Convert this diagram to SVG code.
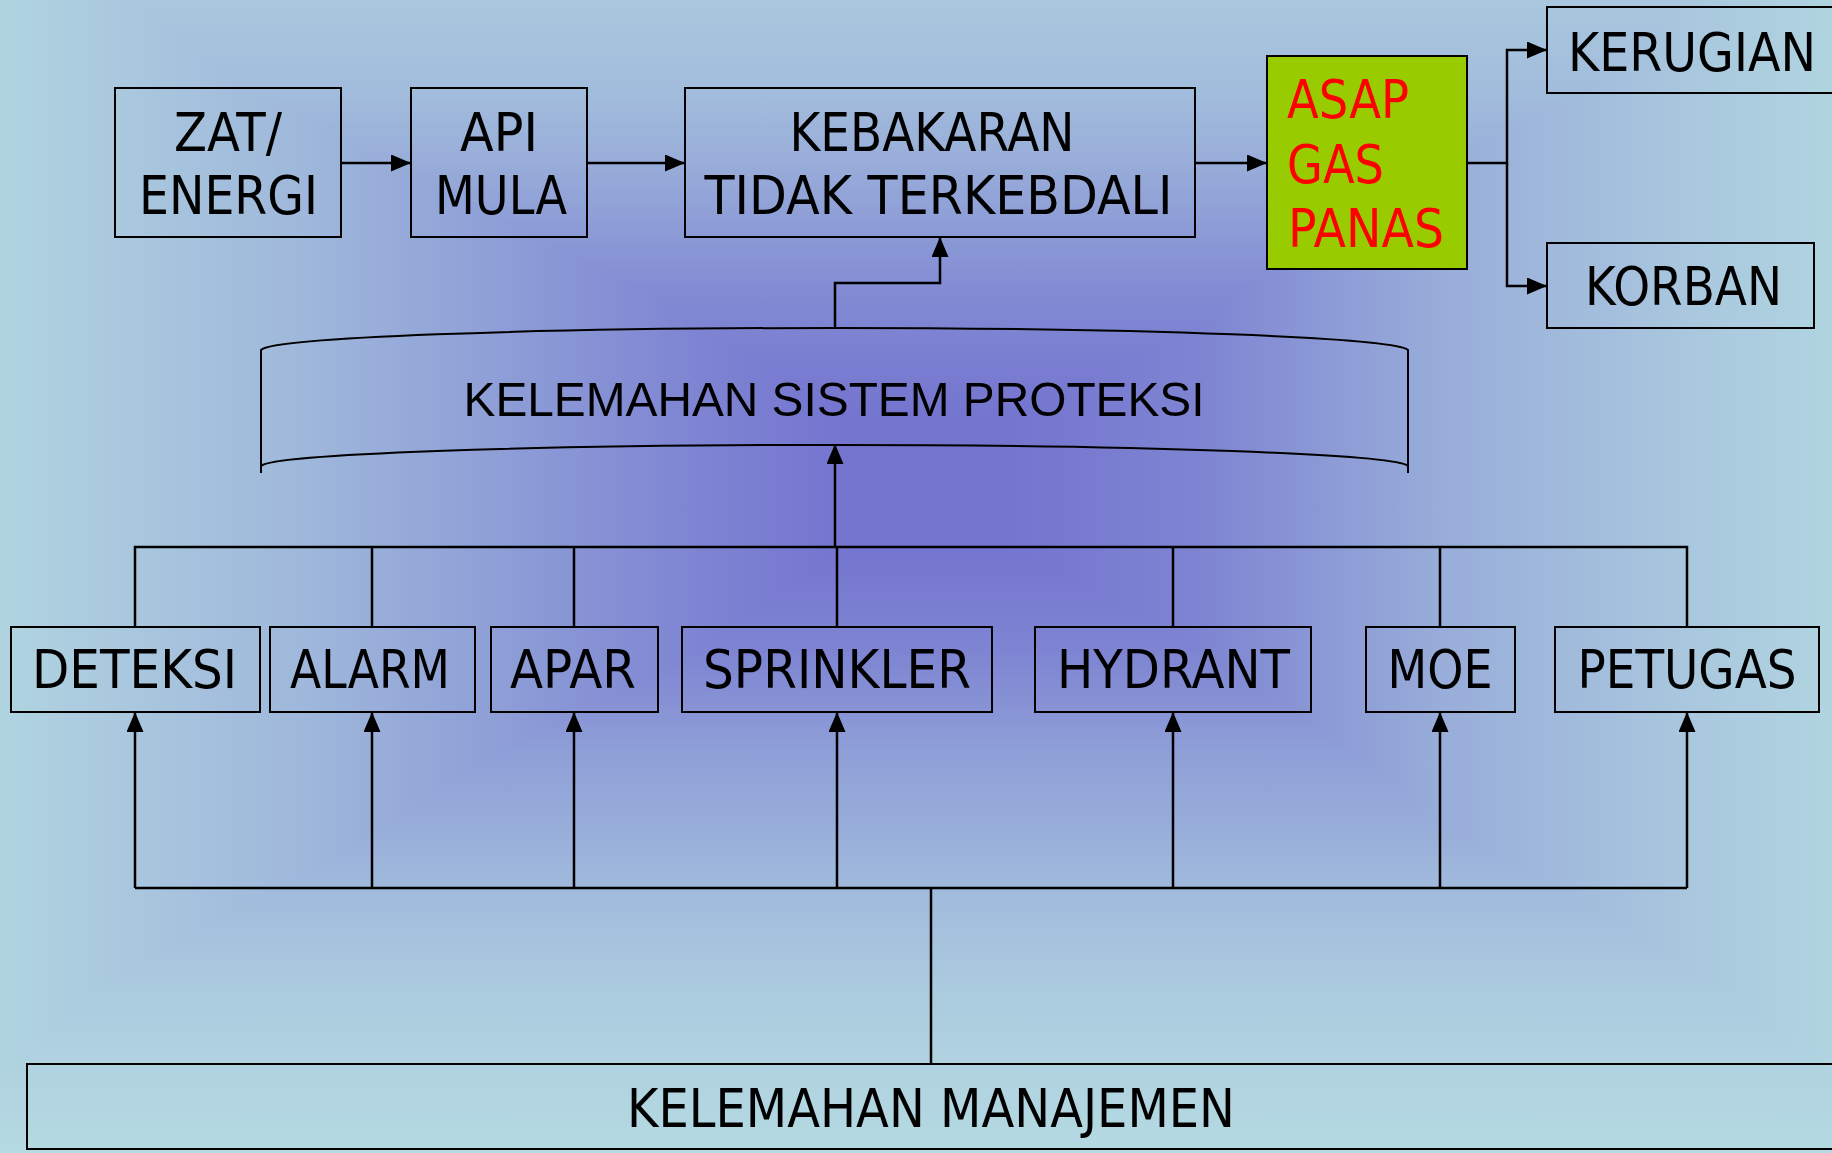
<svg xmlns="http://www.w3.org/2000/svg" width="1832" height="1153" viewBox="0 0 1832 1153">
<defs>
<linearGradient id="bgh" gradientUnits="userSpaceOnUse" x1="0" y1="0" x2="1832" y2="0">
<stop offset="0" stop-color="#B0D4E0"/>
<stop offset="0.071" stop-color="#A9C7DE"/>
<stop offset="0.164" stop-color="#9FB8DB"/>
<stop offset="0.273" stop-color="#8E9ED7"/>
<stop offset="0.382" stop-color="#7E84D2"/>
<stop offset="0.464" stop-color="#7474CF"/>
<stop offset="0.546" stop-color="#7474CF"/>
<stop offset="0.655" stop-color="#7E84D2"/>
<stop offset="0.786" stop-color="#98ADD9"/>
<stop offset="0.922" stop-color="#A9C7DE"/>
<stop offset="1" stop-color="#B0D4E0"/>
</linearGradient>
<linearGradient id="bgv" gradientUnits="userSpaceOnUse" x1="0" y1="0" x2="0" y2="1153">
<stop offset="0" stop-color="#A9C7DE"/>
<stop offset="0.076" stop-color="#A2BDDC"/>
<stop offset="0.141" stop-color="#98ADD9"/>
<stop offset="0.26" stop-color="#8189D3"/>
<stop offset="0.364" stop-color="#7474CF"/>
<stop offset="0.468" stop-color="#7474CF"/>
<stop offset="0.564" stop-color="#7E84D2"/>
<stop offset="0.65" stop-color="#8E9ED7"/>
<stop offset="0.77" stop-color="#A0BADC"/>
<stop offset="0.867" stop-color="#ACCCDF"/>
<stop offset="1" stop-color="#B5DAE2"/>
</linearGradient>
<marker id="arr" viewBox="0 0 20 17" refX="20" refY="8.5" markerWidth="20" markerHeight="17" markerUnits="userSpaceOnUse" orient="auto">
<path d="M0,0 L20,8.5 L0,17 z" fill="#000"/>
</marker>
</defs>
<style>
.box{fill:none;stroke:#000;stroke-width:2}
.t{font-family:"DejaVu Sans",Verdana,sans-serif;font-size:53px;fill:#000;text-anchor:middle}
.r{font-family:"DejaVu Sans",Verdana,sans-serif;font-size:53px;fill:#FF0000}
.ln{fill:none;stroke:#000;stroke-width:2.5}
.ar{marker-end:url(#arr)}
</style>
<g id="background">
<rect x="0" y="0" width="1832" height="1153" fill="url(#bgh)"/>
<rect x="0" y="0" width="1832" height="1153" fill="url(#bgv)" style="mix-blend-mode:lighten"/>
</g>

<g id="connectors">
<path class="ln ar" d="M341,163 H411"/>
<path class="ln ar" d="M587,163 H685"/>
<path class="ln ar" d="M1195,163 H1267"/>
<path class="ln ar" d="M1467,163 H1507 V50 H1547"/>
<path class="ln ar" d="M1507,163 V286 H1547"/>
<path class="ln ar" d="M835,327 V283 H940 V237"/>
<path class="ln ar" d="M835,547 V444"/>
<path class="ln" d="M135,627 V547 H1687 V627 M372,547 V627 M574,547 V627 M837,547 V627 M1173,547 V627 M1440,547 V627"/>
<path class="ln" d="M135,888 H1687" stroke-width="3.5"/>
<path class="ln ar" d="M135,888 V712"/>
<path class="ln ar" d="M372,888 V712"/>
<path class="ln ar" d="M574,888 V712"/>
<path class="ln ar" d="M837,888 V712"/>
<path class="ln ar" d="M1173,888 V712"/>
<path class="ln ar" d="M1440,888 V712"/>
<path class="ln ar" d="M1687,888 V712"/>
<path class="ln" d="M931,888 V1064"/>
</g>

<g id="zat">
<rect class="box" x="115" y="88" width="226" height="149"/>
<text class="t" x="228" y="151" textLength="108" lengthAdjust="spacingAndGlyphs">ZAT/</text>
<text class="t" x="228.5" y="214" textLength="179" lengthAdjust="spacingAndGlyphs">ENERGI</text>
</g>
<g id="api">
<rect class="box" x="411" y="88" width="176" height="149"/>
<text class="t" x="499" y="151" textLength="78" lengthAdjust="spacingAndGlyphs">API</text>
<text class="t" x="501" y="214" textLength="132" lengthAdjust="spacingAndGlyphs">MULA</text>
</g>
<g id="kebakaran">
<rect class="box" x="685" y="88" width="510" height="149"/>
<text class="t" x="932" y="151" textLength="285" lengthAdjust="spacingAndGlyphs">KEBAKARAN</text>
<text class="t" x="938.5" y="214" textLength="468" lengthAdjust="spacingAndGlyphs">TIDAK TERKEBDALI</text>
</g>
<g id="asap">
<rect x="1267" y="56" width="200" height="213" fill="#99CC00" stroke="#000" stroke-width="2"/>
<text class="r" x="1287" y="118" textLength="122" lengthAdjust="spacingAndGlyphs">ASAP</text>
<text class="r" x="1287" y="183" textLength="97" lengthAdjust="spacingAndGlyphs">GAS</text>
<text class="r" x="1288" y="247" textLength="156" lengthAdjust="spacingAndGlyphs">PANAS</text>
</g>
<g id="kerugian">
<rect class="box" x="1547" y="7" width="300" height="86"/>
<text class="t" x="1692" y="71" textLength="248" lengthAdjust="spacingAndGlyphs">KERUGIAN</text>
</g>
<g id="korban">
<rect class="box" x="1547" y="243" width="267" height="85"/>
<text class="t" x="1683.5" y="305" textLength="197" lengthAdjust="spacingAndGlyphs">KORBAN</text>
</g>

<g id="kelemahan-sistem">
<path class="box" d="M261,473 V350 A574,23 0 0 1 1408,350 V473 M261,466 A574,22 0 0 1 1408,466"/>
<text x="834" y="416" font-family="'Liberation Sans',Arial,sans-serif" font-size="48" text-anchor="middle" textLength="741" lengthAdjust="spacingAndGlyphs">KELEMAHAN SISTEM PROTEKSI</text>
</g>

<g id="deteksi">
<rect class="box" x="11" y="627" width="249" height="85"/>
<text class="t" x="134.5" y="688" textLength="205" lengthAdjust="spacingAndGlyphs">DETEKSI</text>
</g>
<g id="alarm">
<rect class="box" x="270" y="627" width="205" height="85"/>
<text class="t" x="370" y="688" textLength="160" lengthAdjust="spacingAndGlyphs">ALARM</text>
</g>
<g id="apar">
<rect class="box" x="491" y="627" width="167" height="85"/>
<text class="t" x="573" y="688" textLength="126" lengthAdjust="spacingAndGlyphs">APAR</text>
</g>
<g id="sprinkler">
<rect class="box" x="682" y="627" width="310" height="85"/>
<text class="t" x="837" y="688" textLength="268" lengthAdjust="spacingAndGlyphs">SPRINKLER</text>
</g>
<g id="hydrant">
<rect class="box" x="1035" y="627" width="276" height="85"/>
<text class="t" x="1173.5" y="688" textLength="233" lengthAdjust="spacingAndGlyphs">HYDRANT</text>
</g>
<g id="moe">
<rect class="box" x="1366" y="627" width="149" height="85"/>
<text class="t" x="1440" y="688" textLength="105" lengthAdjust="spacingAndGlyphs">MOE</text>
</g>
<g id="petugas">
<rect class="box" x="1555" y="627" width="264" height="85"/>
<text class="t" x="1687" y="688" textLength="219" lengthAdjust="spacingAndGlyphs">PETUGAS</text>
</g>

<g id="kelemahan-manajemen">
<rect class="box" x="27" y="1064" width="1820" height="85"/>
<text class="t" x="931" y="1127" textLength="608" lengthAdjust="spacingAndGlyphs">KELEMAHAN MANAJEMEN</text>
</g>
</svg>
